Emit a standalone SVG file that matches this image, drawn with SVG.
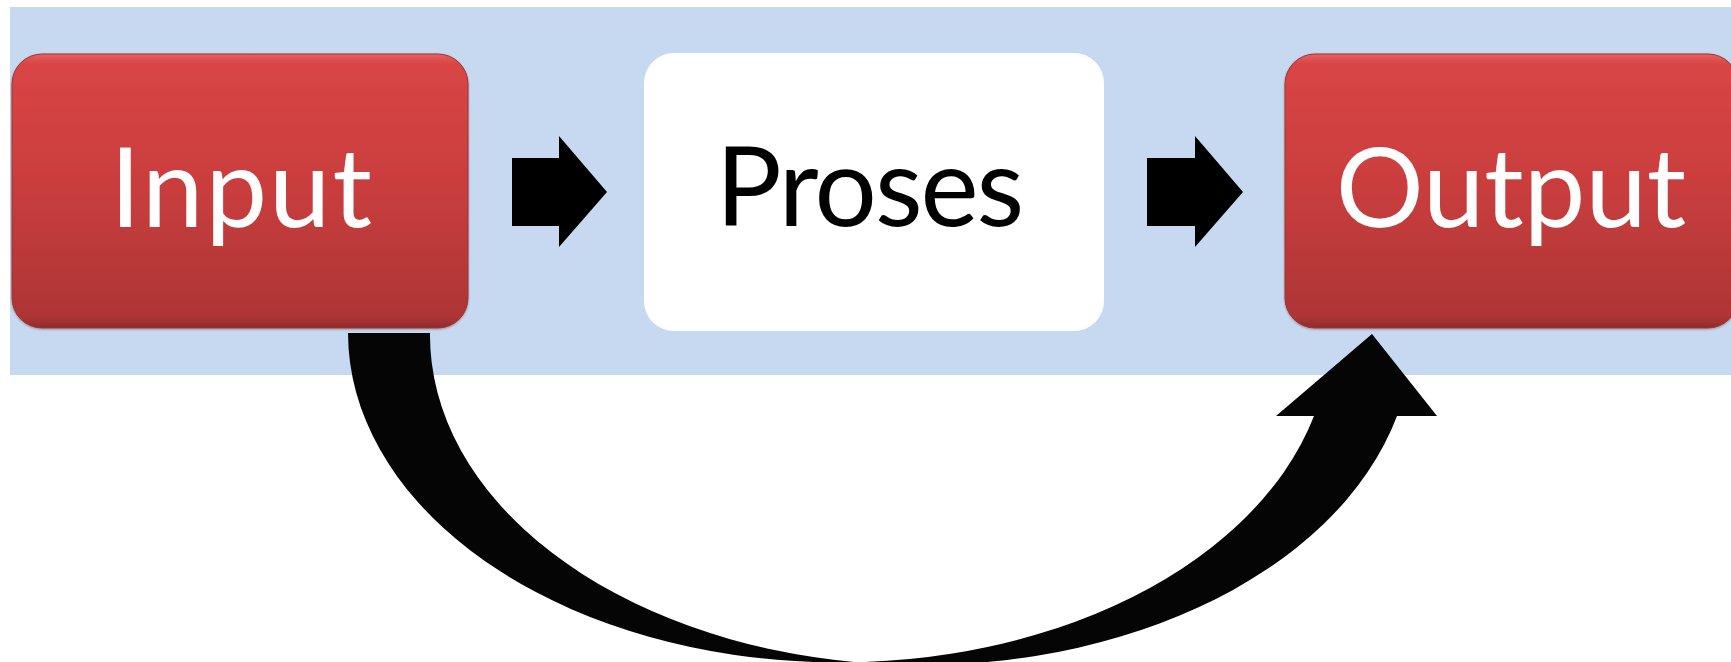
<svg xmlns="http://www.w3.org/2000/svg" width="1731" height="662" viewBox="0 0 1731 662">
  <defs>
    <linearGradient id="redFill" x1="0" y1="0" x2="0" y2="1">
      <stop offset="0" stop-color="#e86262"/>
      <stop offset="0.035" stop-color="#d94545"/>
      <stop offset="0.45" stop-color="#cb3e3e"/>
      <stop offset="0.96" stop-color="#ae3535"/>
      <stop offset="1" stop-color="#8e2b2b"/>
    </linearGradient>
    <filter id="shade" x="-5%" y="-5%" width="110%" height="115%">
      <feGaussianBlur in="SourceAlpha" stdDeviation="1.2"/>
      <feOffset dx="0" dy="1" result="blur"/>
      <feFlood flood-color="#5a1a1a" flood-opacity="0.35"/>
      <feComposite in2="blur" operator="in"/>
      <feMerge>
        <feMergeNode/>
        <feMergeNode in="SourceGraphic"/>
      </feMerge>
    </filter>
  </defs>
  <style>
    .band { fill: #c6d9f0; }
    .red { fill: url(#redFill); stroke: #a03232; stroke-width: 1; filter: url(#shade); }
    .white { fill: #ffffff; }
    .label { font-family: "Lato", "Open Sans", "Liberation Sans", sans-serif; font-size: 110px; text-anchor: middle; }
    .light { fill: #ffffff; }
    .dark { fill: #000000; }
    .arrow { fill: #000000; }
    .curve { fill: #050505; }
  </style>

  <!-- background band behind the process row -->
  <rect class="band" x="10" y="7" width="1721" height="368"/>

  <g id="input">
    <rect class="red" x="12" y="54" width="456" height="274" rx="30" ry="30"/>
    <text class="label light" x="242" y="227" letter-spacing="2">Input</text>
  </g>

  <g id="proses">
    <rect class="white" x="644" y="53" width="460" height="278" rx="30" ry="30"/>
    <text class="label dark" x="869" y="226" letter-spacing="-2">Proses</text>
  </g>

  <g id="output">
    <rect class="red" x="1285" y="54" width="453" height="274" rx="30" ry="30"/>
    <text class="label light" x="1511" y="227">Output</text>
  </g>

  <g id="connectors">
    <!-- Input to Proses -->
    <polygon class="arrow" points="512,158 559,158 559,136 607,192 559,247 559,226 512,226"/>
    <!-- Proses to Output -->
    <polygon class="arrow" points="1147,158 1195,158 1195,136 1243,192 1195,247 1195,226 1147,226"/>
    <!-- curved return from Input to Output, two offset ellipse arcs -->
    <path class="curve" d="M348,333 A491,330 0 0 0 1314,416 L1276,416 L1372,334 L1437,416 L1397,416 A491,330 0 0 1 430,333 Z"/>
  </g>
</svg>
